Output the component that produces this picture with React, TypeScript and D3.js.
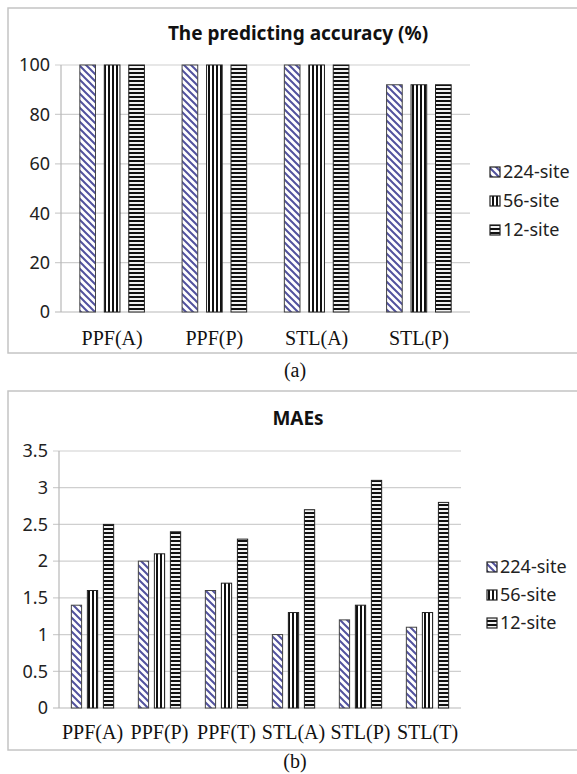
import React, { useEffect, useRef } from "react";
import * as d3 from "d3";

const seriesNames = ["224-site", "56-site", "12-site"];

// (a) predicting accuracy
const accCategories = ["PPF(A)", "PPF(P)", "STL(A)", "STL(P)"];
const acc224 = [100, 100, 100, 92];
const acc56 = [100, 100, 100, 92];
const acc12 = [100, 100, 100, 92];
const accTicks = [0, 20, 40, 60, 80, 100];

// (b) MAEs
const maeCategories = ["PPF(A)", "PPF(P)", "PPF(T)", "STL(A)", "STL(P)", "STL(T)"];
const mae224 = [1.4, 2.0, 1.6, 1.0, 1.2, 1.1];
const mae56 = [1.6, 2.1, 1.7, 1.3, 1.4, 1.3];
const mae12 = [2.5, 2.4, 2.3, 2.7, 3.1, 2.8];
const maeTicks = [0, 0.5, 1, 1.5, 2, 2.5, 3, 3.5];

const fills = ["url(#diag)", "url(#vert)", "url(#horiz)"];
const sans = "'Noto Sans', 'Open Sans', sans-serif";
const serif = "'Liberation Serif', 'DejaVu Serif', serif";

type Panel = {
  boxTop: number;
  boxBottom: number;
  title: string;
  titleY: number;
  categories: string[];
  values: number[][];
  ticks: number[];
  yMax: number;
  yRange: [number, number];
  xRange: [number, number];
  labelY: number;
  legendX: number;
  legendY: number[];
  caption: string;
  captionY: number;
  tickFormat: (v: number) => string;
};

const drawPanel = (svg: d3.Selection<SVGSVGElement, unknown, null, undefined>, p: Panel) => {
  const g = svg.append("g");

  //box
  g.append("rect")
    .attr("x", 8)
    .attr("y", p.boxTop)
    .attr("width", 590)
    .attr("height", p.boxBottom - p.boxTop)
    .attr("fill", "white")
    .attr("stroke", "#c4c4c4")
    .attr("stroke-width", 1.5);

  //title
  g.append("text")
    .attr("x", 298)
    .attr("y", p.titleY)
    .attr("text-anchor", "middle")
    .attr("font-family", sans)
    .attr("font-weight", "bold")
    .attr("font-size", 19)
    .attr("fill", "#111")
    .text(p.title);

  const yScale = d3.scaleLinear().domain([0, p.yMax]).range(p.yRange);
  const xScale = d3.scaleBand().domain(p.categories).range(p.xRange).padding(0);
  const inner = d3
    .scaleBand()
    .domain(seriesNames)
    .range([0, xScale.bandwidth()])
    .paddingInner(0.36)
    .paddingOuter(0.77);

  const [x0, x1] = p.xRange;

  //grid + ticks
  const grid = g.append("g");
  p.ticks.forEach((t) => {
    grid
      .append("line")
      .attr("x1", x0 - 6)
      .attr("x2", x1)
      .attr("y1", yScale(t))
      .attr("y2", yScale(t))
      .attr("stroke", t === 0 ? "#b8b8b8" : "#cfcfcf")
      .attr("stroke-width", 1.2);
    grid
      .append("text")
      .attr("x", x0 - 11)
      .attr("y", yScale(t))
      .attr("dy", "0.35em")
      .attr("text-anchor", "end")
      .attr("font-family", sans)
      .attr("font-size", 18)
      .attr("fill", "#222")
      .text(p.tickFormat(t));
  });
  grid
    .append("line")
    .attr("x1", x0)
    .attr("x2", x0)
    .attr("y1", yScale(p.yMax))
    .attr("y2", yScale(0))
    .attr("stroke", "#b8b8b8")
    .attr("stroke-width", 1.2);

  //bars
  p.values.forEach((vals, si) => {
    g.append("g")
      .selectAll("rect")
      .data(vals)
      .join("rect")
      .attr("x", (d, i) => (xScale(p.categories[i]) as number) + (inner(seriesNames[si]) as number))
      .attr("y", (d) => yScale(d))
      .attr("width", inner.bandwidth())
      .attr("height", (d) => yScale(0) - yScale(d))
      .attr("fill", fills[si])
      .attr("stroke", si === 0 ? "#444" : "#222")
      .attr("stroke-width", 1);
  });

  //x labels
  g.append("g")
    .selectAll("text")
    .data(p.categories)
    .join("text")
    .attr("x", (d) => (xScale(d) as number) + xScale.bandwidth() / 2)
    .attr("y", p.labelY)
    .attr("text-anchor", "middle")
    .attr("font-family", serif)
    .attr("font-size", 20)
    .attr("fill", "#111")
    .text((d) => d);

  //legend
  const lg = g.append("g");
  seriesNames.forEach((name, i) => {
    lg.append("rect")
      .attr("x", p.legendX)
      .attr("y", p.legendY[i] - 5)
      .attr("width", 10)
      .attr("height", 10)
      .attr("fill", fills[i])
      .attr("stroke", "#222")
      .attr("stroke-width", 1.2);
    lg.append("text")
      .attr("x", p.legendX + 13)
      .attr("y", p.legendY[i])
      .attr("dy", "0.35em")
      .attr("font-family", sans)
      .attr("font-size", 18)
      .attr("fill", "#222")
      .text(name);
  });

  //caption
  svg
    .append("text")
    .attr("x", 295)
    .attr("y", p.captionY)
    .attr("text-anchor", "middle")
    .attr("font-family", serif)
    .attr("font-size", 20)
    .attr("fill", "#111")
    .text(p.caption);
};

const App = () => {
  const svgRef = useRef<SVGSVGElement>(null);

  useEffect(() => {
    const svg = d3.select(svgRef.current as SVGSVGElement);
    svg.selectAll("*").remove();

    //patterns
    const defs = svg.append("defs");
    const diag = defs
      .append("pattern")
      .attr("id", "diag")
      .attr("patternUnits", "userSpaceOnUse")
      .attr("width", 7)
      .attr("height", 7);
    diag.append("rect").attr("width", 7).attr("height", 7).attr("fill", "white");
    diag
      .append("path")
      .attr("d", "M0,0 L7,7 M-1,6 L1,8 M6,-1 L8,1")
      .attr("stroke", "#52529e")
      .attr("stroke-width", 2);

    const vert = defs
      .append("pattern")
      .attr("id", "vert")
      .attr("patternUnits", "userSpaceOnUse")
      .attr("width", 4)
      .attr("height", 4);
    vert.append("rect").attr("width", 4).attr("height", 4).attr("fill", "white");
    vert.append("rect").attr("width", 2).attr("height", 4).attr("fill", "#111");

    const horiz = defs
      .append("pattern")
      .attr("id", "horiz")
      .attr("patternUnits", "userSpaceOnUse")
      .attr("width", 4)
      .attr("height", 4);
    horiz.append("rect").attr("width", 4).attr("height", 4).attr("fill", "#f2f2f2");
    horiz.append("rect").attr("width", 4).attr("height", 2).attr("fill", "#111");

    drawPanel(svg, {
      boxTop: 8,
      boxBottom: 353,
      title: "The predicting accuracy (%)",
      titleY: 40,
      categories: accCategories,
      values: [acc224, acc56, acc12],
      ticks: accTicks,
      yMax: 100,
      yRange: [312, 65],
      xRange: [61, 470],
      labelY: 345,
      legendX: 490,
      legendY: [172, 201, 230],
      caption: "(a)",
      captionY: 377,
      tickFormat: (v) => String(v),
    });

    drawPanel(svg, {
      boxTop: 391,
      boxBottom: 750,
      title: "MAEs",
      titleY: 425,
      categories: maeCategories,
      values: [mae224, mae56, mae12],
      ticks: maeTicks,
      yMax: 3.5,
      yRange: [708, 451],
      xRange: [59, 461],
      labelY: 739,
      legendX: 487,
      legendY: [567, 595, 623],
      caption: "(b)",
      captionY: 768,
      tickFormat: (v) => String(v),
    });
  }, []);

  return (
    <svg
      ref={svgRef}
      width={577}
      height={774}
      style={{ position: "absolute", left: 0, top: 0, background: "white" }}
    />
  );
};

export default App;
